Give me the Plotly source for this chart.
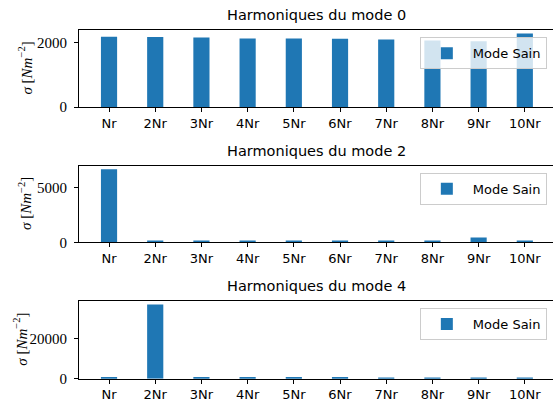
import plotly.graph_objects as go

# harmonic labels
harmonics = ["Nr", "2Nr", "3Nr", "4Nr", "5Nr", "6Nr", "7Nr", "8Nr", "9Nr", "10Nr"]

# amplitudes, N/m^2
mode0 = [2170, 2165, 2150, 2120, 2120, 2110, 2085, 2060, 2035, 2270]
mode2 = [6640, 110, 110, 110, 110, 110, 110, 110, 450, 110]
mode4 = [900, 36900, 900, 900, 900, 900, 700, 700, 700, 700]

titles = ["Harmoniques du mode 0", "Harmoniques du mode 2", "Harmoniques du mode 4"]
yticks = [[0, 2000], [0, 5000], [0, 20000]]

BLUE = "#1f77b4"
W, H = 553, 412
L = 79
SANS = "DejaVu Sans"
SERIF = "Liberation Serif"

# axes boxes in pixels (top, bottom) and y-label x position
boxes = [(30.5, 109.3), (168.8, 247.3), (306.7, 386.3)]
ylab_x = [25, 25, 20]

def py(y):
    return 1 - y / H

fig = go.Figure()
layout = dict(width=W, height=H, margin=dict(l=L, r=0, t=0, b=0),
              plot_bgcolor="white", paper_bgcolor="white",
              showlegend=True, annotations=[])

for i, vals in enumerate([mode0, mode2, mode4]):
    n = "" if i == 0 else str(i + 1)
    leg = "legend" + n
    fig.add_trace(go.Bar(x=harmonics, y=vals, width=0.35, name="Mode Sain",
                         marker=dict(color=BLUE, line=dict(width=0)),
                         xaxis="x" + n, yaxis="y" + n, legend=leg))
    top, bot = boxes[i]
    layout["xaxis" + n] = dict(domain=[0, 1], anchor="y" + n, type="category",
                               range=[-0.65, 9.61], showline=True, linecolor="black",
                               linewidth=1, mirror=True, ticks="outside", ticklen=4,
                               tickcolor="black", showgrid=False, zeroline=False,
                               tickfont=dict(family=SANS, size=13, color="black"))
    layout["yaxis" + n] = dict(domain=[py(bot), py(top)], anchor="x" + n,
                               range=[0, 1.05 * max(vals)], tickvals=yticks[i],
                               tickformat="d",
                               showline=True, linecolor="black", linewidth=1,
                               ticks="outside", ticklen=4, tickcolor="black",
                               showgrid=False, zeroline=False, ticklabelstandoff=4,
                               tickfont=dict(family=SERIF, size=15, color="black"))
    layout[leg] = dict(x=0.987, xanchor="right", y=py(top + 7.5), yanchor="top",
                       itemwidth=42,
                       bgcolor="rgba(255,255,255,0.8)", bordercolor="#cccccc",
                       borderwidth=1, font=dict(family=SANS, size=13, color="black"))
    layout["annotations"].append(dict(text=titles[i], xref="paper", yref="paper",
                                      x=0.5, y=py(top - 15), showarrow=False,
                                      xanchor="center", yanchor="middle",
                                      font=dict(family=SANS, size=14.5, color="black")))
    layout["annotations"].append(dict(text="<i>σ</i> [<i>Nm</i><sup>−2</sup>]",
                                      xref="paper", yref="paper",
                                      x=(ylab_x[i] - L) / (W - L), y=py((top + bot) / 2),
                                      xanchor="center", yanchor="middle",
                                      textangle=-90, showarrow=False,
                                      font=dict(family=SERIF, size=15, color="black")))

fig.update_layout(**layout)
fig.write_html("out.html", config={"displayModeBar": False},
               post_script="document.body.style.margin='0';document.body.style.overflow='hidden';")
